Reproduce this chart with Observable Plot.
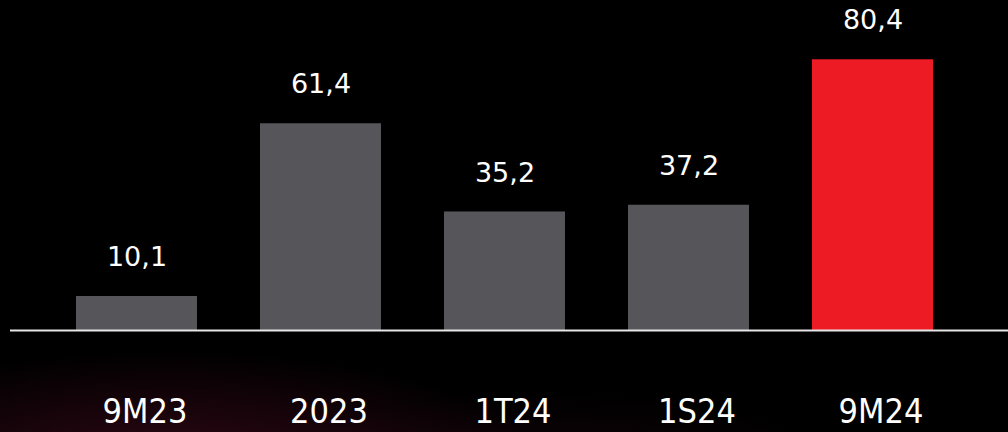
<!DOCTYPE html>
<html>
<head>
<meta charset="utf-8">
<script src="https://cdn.jsdelivr.net/npm/d3@7"></script>
<script src="https://cdn.jsdelivr.net/npm/@observablehq/plot@0.6"></script>
<style>
  html, body { margin: 0; padding: 0; background: #000; }
  #chart {
    width: 1008px; height: 432px; overflow: hidden;
    background:
      radial-gradient(ellipse 380px 120px at 170px 470px, rgba(110, 18, 48, 0.45), rgba(0,0,0,0) 100%),
      radial-gradient(ellipse 300px 90px at 560px 480px, rgba(70, 14, 40, 0.25), rgba(0,0,0,0) 100%),
      #000;
  }
  #chart svg { display: block; }
</style>
</head>
<body>
<div id="chart"></div>
<script>
const categories = ["9M23", "2023", "1T24", "1S24", "9M24"];
const values = [10.1, 61.4, 35.2, 37.2, 80.4];
const highlighted = [false, false, false, false, true];

const data = categories.map((c, i) => ({
  category: c,
  value: values[i],
  highlight: highlighted[i],
  label: d3.format(".1f")(values[i]).replace(".", ",")
}));

const chart = Plot.plot({
  width: 1008,
  height: 432,
  marginTop: 0,
  marginBottom: 102,
  marginLeft: 10,
  marginRight: 10,
  style: { background: "transparent", color: "#ffffff" },
  x: { domain: categories, padding: 0.345, axis: null },
  y: { domain: [0, 98], axis: null },
  color: { domain: [false, true], range: ["#55555a", "#ed1c24"] },
  marks: [
    Plot.barY(data, { x: "category", y: "value", fill: "highlight" }),
    Plot.ruleY([0], { stroke: "#e6e6e6", strokeWidth: 2, insetRight: -10 }),
    Plot.text(data, {
      x: "category", y: "value", text: "label",
      dy: -39, lineAnchor: "middle",
      fill: "#ffffff", fontSize: 27,
      fontFamily: "DejaVu Sans"
    }),
    Plot.text(data, {
      x: "category", y: 0, text: "category",
      dy: 82, dx: 8, lineAnchor: "middle",
      fill: "#ffffff", fontSize: 34,
      fontFamily: "DejaVu Sans Condensed"
    })
  ]
});

document.getElementById("chart").appendChild(chart);
</script>
</body>
</html>
